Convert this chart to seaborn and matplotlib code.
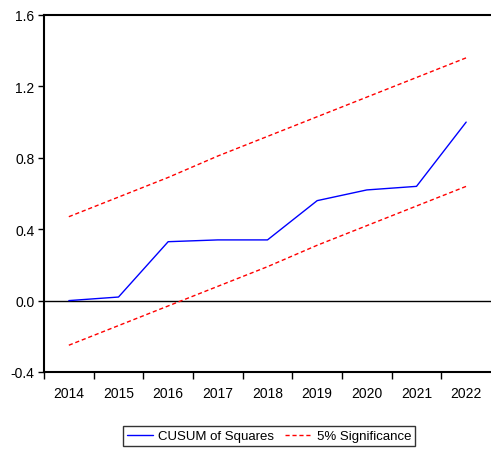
import matplotlib.pyplot as plt
import numpy as np
import pandas as pd
import seaborn as sns

years = ["2014", "2015", "2016", "2017", "2018", "2019", "2020", "2021", "2022"]
cusum_sq = [0.00, 0.02, 0.33, 0.34, 0.34, 0.56, 0.62, 0.64, 1.00]
upper_5pct = [0.47, 0.58, 0.69, 0.81, 0.92, 1.03, 1.14, 1.25, 1.36]
lower_5pct = [-0.25, -0.14, -0.03, 0.08, 0.19, 0.31, 0.42, 0.53, 0.64]
y_ticks = [-0.4, 0.0, 0.4, 0.8, 1.2, 1.6]

sns.set_style("white")
plt.rcParams["font.family"] = ["Liberation Sans", "DejaVu Sans"]
plt.rcParams["text.color"] = "black"
plt.rcParams["xtick.color"] = "black"
plt.rcParams["ytick.color"] = "black"

df = pd.DataFrame({
    "pos": np.arange(len(years)),
    "cusum": cusum_sq,
    "upper": upper_5pct,
    "lower": lower_5pct,
})

fig = plt.figure(figsize=(4.91, 4.56), dpi=100)
ax = fig.add_axes([44 / 491, 1 - 373 / 456, 447 / 491, 357 / 456])

# ----------------------------
# Lines
# ----------------------------
ax.axhline(0, color="black", lw=1.0, zorder=1)
sns.lineplot(data=df, x="pos", y="cusum", ax=ax, color="#0000ff", lw=1.0)
sns.lineplot(data=df, x="pos", y="upper", ax=ax, color="#ff0000", lw=1.0,
             linestyle=(0, (3, 2)))
sns.lineplot(data=df, x="pos", y="lower", ax=ax, color="#ff0000", lw=1.0,
             linestyle=(0, (3, 2)))

# ----------------------------
# Axes styling
# ----------------------------
ax.set_xlim(-0.5, len(years) - 0.5)
ax.set_ylim(-0.4, 1.6)
ax.set_yticks(y_ticks)
ax.set_yticklabels([f"{v:.1f}" for v in y_ticks])
ax.set_xticks(np.arange(len(years)))
ax.set_xticklabels(years)
ax.set_xticks(np.arange(len(years)) - 0.5, minor=True)
ax.tick_params(axis="x", which="major", length=0, pad=10, labelsize=10)
ax.tick_params(axis="x", which="minor", length=5, width=1, direction="out",
               bottom=True, color="black")
ax.tick_params(axis="y", length=4, width=1, direction="out", left=True,
               labelsize=10, color="black", pad=3)
ax.set_xlabel("")
ax.set_ylabel("")

for side in ["left", "top", "bottom"]:
    ax.spines[side].set_color("black")
    ax.spines[side].set_linewidth(1.5)
ax.spines["right"].set_visible(False)

# ----------------------------
# Legend
# ----------------------------
handles = [ax.lines[1], ax.lines[2]]
leg = fig.legend(handles, ["CUSUM of Squares", "5% Significance"],
                 loc="center", bbox_to_anchor=(269 / 491, 1 - 437 / 456),
                 ncol=2, frameon=True, fancybox=False, fontsize=9.5,
                 handlelength=2.0, handletextpad=0.4, columnspacing=0.8,
                 borderpad=0.3, borderaxespad=0)
leg.get_frame().set_edgecolor("black")
leg.get_frame().set_linewidth(1.0)

plt.savefig("out.png", dpi=100)
